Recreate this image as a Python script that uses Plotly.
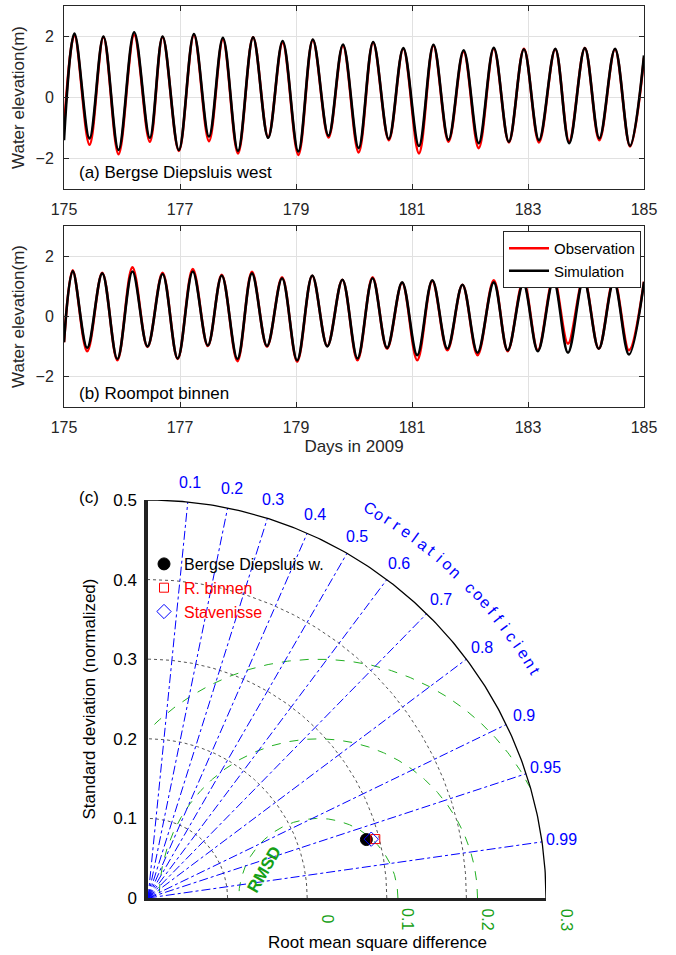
import numpy as np
import plotly.graph_objects as go

# ---------------- data: (a) Bergse Diepsluis west ----------------
t_high_a = [175.18, 175.68, 176.21, 176.70, 177.24, 177.74, 178.26, 178.77, 179.29, 179.81,
            180.33, 180.85, 181.37, 181.89, 182.41, 182.93, 183.47, 183.98, 184.50]
t_low_a = [175.44, 175.94, 176.48, 176.98, 177.50, 178.00, 178.52, 179.04, 179.56, 180.08,
           180.60, 181.12, 181.63, 182.15, 182.67, 183.19, 183.71, 184.23, 184.76]
sim_high_a = [2.10, 2.00, 2.14, 2.00, 2.08, 1.96, 1.97, 1.85, 1.90, 1.74,
              1.82, 1.62, 1.73, 1.55, 1.63, 1.58, 1.60, 1.62, 1.60]
sim_low_a = [-1.34, -1.72, -1.32, -1.72, -1.28, -1.75, -1.32, -1.77, -1.25, -1.66,
             -1.36, -1.59, -1.39, -1.50, -1.45, -1.40, -1.50, -1.34, -1.58]
obs_high_a = [2.05, 1.98, 2.05, 1.98, 2.05, 1.90, 1.97, 1.80, 1.88, 1.70,
              1.80, 1.60, 1.70, 1.50, 1.60, 1.60, 1.58, 1.62, 1.58]
obs_low_a = [-1.55, -1.86, -1.45, -1.75, -1.43, -1.83, -1.30, -1.88, -1.31, -1.80,
             -1.40, -1.83, -1.45, -1.66, -1.47, -1.47, -1.45, -1.40, -1.60]
start_a = (175.0, -1.40, -1.00)   # time, sim, obs
end_a = (185.0, 1.38, 1.30)

# ---------------- data: (b) Roompot binnen ----------------
t_high_b = [175.15, 175.66, 176.18, 176.70, 177.22, 177.72, 178.24, 178.76, 179.28, 179.80,
            180.32, 180.83, 181.35, 181.87, 182.41, 182.92, 183.44, 183.96, 184.48]
t_low_b = [175.40, 175.92, 176.44, 176.96, 177.48, 177.99, 178.50, 179.02, 179.54, 180.06,
           180.57, 181.09, 181.61, 182.13, 182.65, 183.17, 183.69, 184.22, 184.74]
sim_high_b = [1.51, 1.43, 1.49, 1.41, 1.49, 1.36, 1.43, 1.27, 1.36, 1.22,
              1.27, 1.13, 1.20, 1.05, 1.13, 1.09, 1.20, 1.24, 1.16]
sim_low_b = [-1.04, -1.41, -0.99, -1.39, -0.96, -1.41, -0.98, -1.45, -0.99, -1.39,
             -1.04, -1.28, -1.07, -1.20, -1.12, -1.15, -1.20, -1.07, -1.26]
obs_high_b = [1.53, 1.45, 1.63, 1.45, 1.57, 1.38, 1.48, 1.30, 1.35, 1.22,
              1.30, 1.12, 1.18, 1.05, 1.20, 1.18, 1.27, 1.27, 1.22]
obs_low_b = [-1.15, -1.45, -1.01, -1.41, -0.98, -1.48, -1.00, -1.50, -0.98, -1.45,
             -1.07, -1.45, -1.12, -1.28, -1.15, -1.12, -0.90, -1.07, -1.12]
start_b = (175.0, -0.85, -0.85)
end_b = (185.0, 1.15, 1.15)

day_ticks = [175, 177, 179, 181, 183, 185]
elev_ticks = [-2, 0, 2]

# ---------------- data: (c) Taylor diagram ----------------
stations = ["Bergse Diepsluis w.", "R. binnen", "Stavenisse"]
std_norm = [0.284, 0.295, 0.290]
corr_coef = [0.966, 0.968, 0.967]
ref_std = 0.214
std_arcs = [0.1, 0.2, 0.3, 0.4]
std_max = 0.5
corr_ticks = [0.1, 0.2, 0.3, 0.4, 0.5, 0.6, 0.7, 0.8, 0.9, 0.95, 0.99]
rmsd_arcs = [0.1, 0.2, 0.3]
rmsd_labels = [0, 0.1, 0.2, 0.3]
std_ticks = [0, 0.1, 0.2, 0.3, 0.4, 0.5]

FONT = "Liberation Sans, Arial, sans-serif"
W, H = 676, 955
DARK = "#262626"
GREEN = "#16a016"

# pixel layout of the Taylor axes (origin, pixels per unit)
TX0, TY0, TSX, TSY = 148, 898, 796, 796


def px(x):
    return x / W


def py(y):
    return 1 - y / H


def tpx(v):
    return px(TX0 + TSX * v)


def tpy(v):
    return py(TY0 - TSY * v)


def merge(start, th, vh, tl, vl, end, idx):
    pts = [(start[0], start[idx])] + sorted(list(zip(th, vh)) + list(zip(tl, vl))) + [(end[0], end[idx])]
    return [p[0] for p in pts], [p[1] for p in pts]


fig = go.Figure()

panels = [
    ("x", "y", start_a, end_a, t_high_a, t_low_a, obs_high_a, obs_low_a, sim_high_a, sim_low_a, False),
    ("x2", "y2", start_b, end_b, t_high_b, t_low_b, obs_high_b, obs_low_b, sim_high_b, sim_low_b, True),
]
for xa, ya, st, en, th, tl, oh, ol, sh, sl, leg in panels:
    ot, ov = merge(st, th, oh, tl, ol, en, 2)
    stt, sv = merge(st, th, sh, tl, sl, en, 1)
    fig.add_trace(go.Scatter(x=ot, y=ov, mode="lines", name="Observation",
                             line=dict(color="#ff0000", width=2.6, shape="spline", smoothing=1.0),
                             showlegend=leg, legend="legend", xaxis=xa, yaxis=ya, hoverinfo="skip"))
    fig.add_trace(go.Scatter(x=stt, y=sv, mode="lines", name="Simulation",
                             line=dict(color="#000000", width=2.6, shape="spline", smoothing=1.0),
                             showlegend=leg, legend="legend", xaxis=xa, yaxis=ya, hoverinfo="skip"))

# ---- Taylor diagram geometry ----
theta = np.linspace(0, np.pi / 2, 200)
ax_, ay_ = [], []
for s in std_arcs:
    ax_ += list(s * np.cos(theta)) + [None]
    ay_ += list(s * np.sin(theta)) + [None]
fig.add_trace(go.Scatter(x=ax_, y=ay_, mode="lines", line=dict(color="#555555", width=1, dash="dot"),
                         showlegend=False, xaxis="x3", yaxis="y3", hoverinfo="skip"))

phi = np.linspace(0, np.pi, 400)
gx, gy = [], []
for r in rmsd_arcs:
    xx = ref_std + r * np.cos(phi)
    yy = r * np.sin(phi)
    for a, b in zip(xx, yy):
        if a < 0 or a * a + b * b > std_max ** 2:
            gx.append(None)
            gy.append(None)
        else:
            gx.append(a)
            gy.append(b)
    gx.append(None)
    gy.append(None)
fig.add_trace(go.Scatter(x=gx, y=gy, mode="lines", line=dict(color="#22b022", width=1, dash="dash"),
                         showlegend=False, xaxis="x3", yaxis="y3", hoverinfo="skip"))

rx, ry = [], []
for c in corr_ticks:
    rx += [0, std_max * c, None]
    ry += [0, std_max * np.sqrt(1 - c * c), None]
fig.add_trace(go.Scatter(x=rx, y=ry, mode="lines", line=dict(color="#0000ff", width=1, dash="dashdot"),
                         showlegend=False, xaxis="x3", yaxis="y3", hoverinfo="skip"))

fig.add_trace(go.Scatter(x=std_max * np.cos(theta), y=std_max * np.sin(theta), mode="lines",
                         line=dict(color="#000000", width=1.3), showlegend=False,
                         xaxis="x3", yaxis="y3", hoverinfo="skip"))

names_html = [
    "<span style='color:#000000'>%s</span>" % stations[0],
    "<span style='color:#ff0000'>%s</span>" % stations[1],
    "<span style='color:#ff0000'>%s</span>" % stations[2],
]
marker_styles = [
    dict(symbol="circle", size=12, color="#000000", line=dict(color="#000000", width=1)),
    dict(symbol="square-open", size=9, color="#ff0000", line=dict(color="#ff0000", width=1)),
    dict(symbol="diamond-open", size=11, color="#0000ff", line=dict(color="#0000ff", width=1)),
]
for i in range(3):
    ang = np.arccos(corr_coef[i])
    fig.add_trace(go.Scatter(x=[std_norm[i] * np.cos(ang)], y=[std_norm[i] * np.sin(ang)],
                             mode="markers", marker=marker_styles[i], name=names_html[i],
                             showlegend=True, legend="legend2", cliponaxis=False,
                             xaxis="x3", yaxis="y3", hoverinfo="skip"))

annotations = []
annotations.append(dict(x=px(77), y=py(172), xref="paper", yref="paper", text="(a) Bergse Diepsluis west",
                        showarrow=False, xanchor="left", yanchor="middle", font=dict(size=17, color="#000")))
annotations.append(dict(x=px(77), y=py(393), xref="paper", yref="paper", text="(b) Roompot binnen",
                        showarrow=False, xanchor="left", yanchor="middle", font=dict(size=17, color="#000")))
annotations.append(dict(x=px(89), y=py(497), xref="paper", yref="paper", text="(c)",
                        showarrow=False, xanchor="center", yanchor="middle", font=dict(size=17, color="#000")))
# correlation tick labels
for c in corr_ticks:
    r = 0.525
    annotations.append(dict(x=tpx(r * c), y=tpy(r * np.sqrt(1 - c * c)), xref="paper", yref="paper",
                            text=str(c), showarrow=False, xanchor="center", yanchor="middle",
                            font=dict(size=16, color="#0000ff")))
# "Correlation coefficient" along arc
label = "Correlation coefficient"
angs = np.linspace(60.3, 30.3, len(label))
for ch, a in zip(label, angs):
    if ch == " ":
        continue
    ar = np.radians(a)
    annotations.append(dict(x=tpx(0.563 * np.cos(ar)), y=tpy(0.563 * np.sin(ar)), xref="paper", yref="paper",
                            text=ch, showarrow=False, xanchor="center", yanchor="middle", textangle=90 - a,
                            font=dict(size=16, color="#0000ff")))
# RMSD labels
for v in rmsd_labels:
    annotations.append(dict(x=tpx(ref_std + v + 0.012), y=tpy(-0.027), xref="paper", yref="paper",
                            text=str(v), showarrow=False, xanchor="center", yanchor="middle", textangle=90,
                            font=dict(size=16, color=GREEN)))
annotations.append(dict(x=tpx(0.146), y=tpy(0.036), xref="paper", yref="paper", text="<b>RMSD</b>",
                        showarrow=False, xanchor="center", yanchor="middle", textangle=-60,
                        font=dict(size=17, color=GREEN)))
annotations.append(dict(x=px(377), y=py(942), xref="paper", yref="paper", text="Root mean square difference",
                        showarrow=False, xanchor="center", yanchor="middle", font=dict(size=17, color="#000")))

ts_x = dict(range=[175, 185], tickvals=day_ticks, ticks="inside", ticklen=5, tickcolor=DARK,
            showline=True, linecolor=DARK, linewidth=1, mirror="allticks", showgrid=True,
            gridcolor="#e1e1e1", gridwidth=1, zeroline=False, automargin=False,
            tickfont=dict(size=16, color=DARK), ticklabelstandoff=6)
ts_y = dict(range=[-3, 3], tickvals=elev_ticks, ticks="inside", ticklen=5, tickcolor=DARK,
            showline=True, linecolor=DARK, linewidth=1, mirror="allticks", showgrid=True,
            gridcolor="#e1e1e1", gridwidth=1, zeroline=False, automargin=False,
            tickfont=dict(size=16, color=DARK), ticklabelstandoff=6,
            title=dict(text="Water elevation(m)", font=dict(size=17, color=DARK), standoff=6))

fig.update_layout(
    width=W, height=H,
    margin=dict(l=0, r=0, t=0, b=0),
    paper_bgcolor="white", plot_bgcolor="white",
    font=dict(family=FONT, color="#000000"),
    xaxis=dict(ts_x, domain=[px(64), px(644)], anchor="y"),
    yaxis=dict(ts_y, domain=[py(189), py(6)], anchor="x"),
    xaxis2=dict(ts_x, domain=[px(64), px(644)], anchor="y2",
                title=dict(text="Days in 2009", font=dict(size=17, color=DARK), standoff=4)),
    yaxis2=dict(ts_y, domain=[py(407), py(226)], anchor="x2"),
    xaxis3=dict(domain=[tpx(0), tpx(0.5)], anchor="y3", range=[0, 0.5], showgrid=False, zeroline=False,
                showticklabels=False, ticks="", showline=True, linecolor="#222222", linewidth=2.5,
                automargin=False),
    yaxis3=dict(domain=[tpy(0), tpy(0.5)], anchor="x3", range=[0, 0.5], showgrid=False, zeroline=False,
                tickvals=std_ticks, ticktext=[str(v) for v in std_ticks], ticks="",
                showline=True, linecolor="#222222", linewidth=3.5, automargin=False,
                tickfont=dict(size=17, color="#000"), ticklabelstandoff=4,
                title=dict(text="Standard deviation (normalized)", font=dict(size=17, color="#000"), standoff=14)),
    legend=dict(x=px(641), y=py(231), xanchor="right", yanchor="top", bgcolor="white",
                bordercolor=DARK, borderwidth=1, font=dict(size=15, color="#000"), tracegroupgap=0,
                itemwidth=40),
    legend2=dict(x=px(144), y=py(547), xanchor="left", yanchor="top", bgcolor="rgba(0,0,0,0)",
                 borderwidth=0, font=dict(size=16, color="#000"), tracegroupgap=0, itemwidth=30),
    annotations=annotations,
    showlegend=True,
)

fig.write_html("out.html", config={"displayModeBar": False},
               post_script="document.body.style.margin='0';document.body.style.overflow='hidden';")
